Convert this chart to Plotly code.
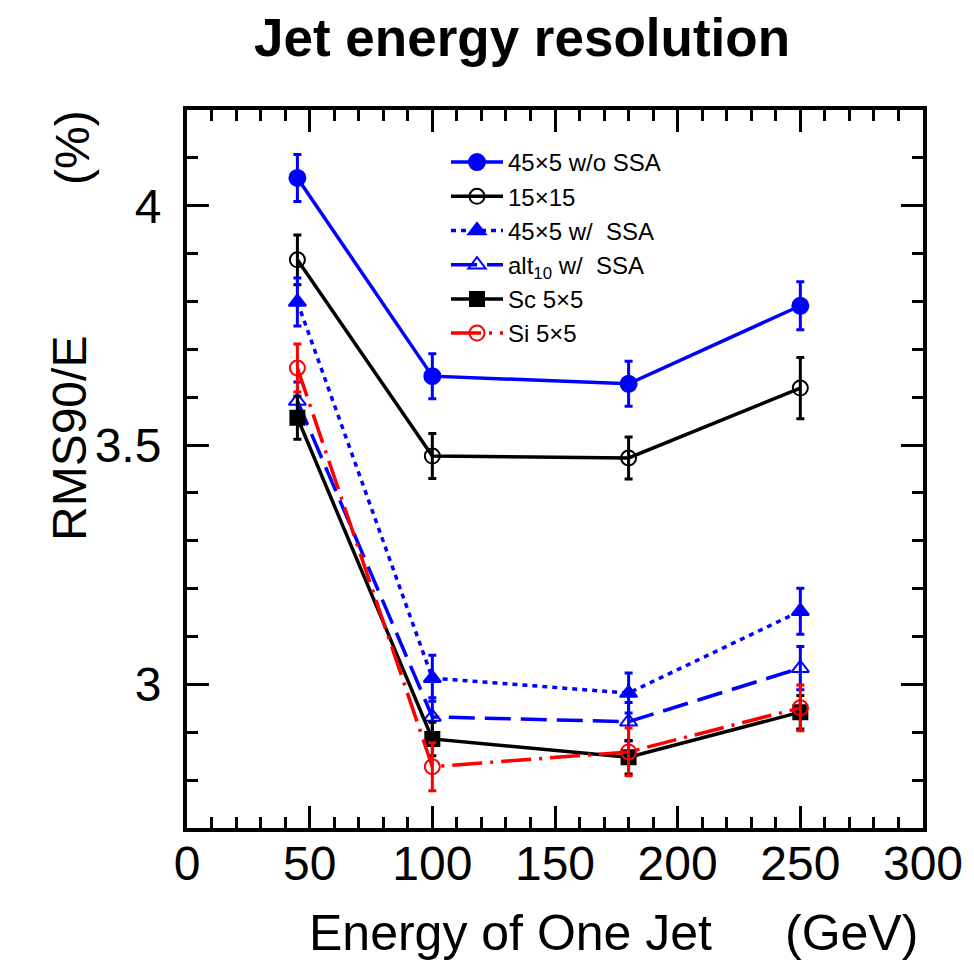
import plotly.graph_objects as go

energy = [45, 100, 180, 250]

names = ["45×5 w/o SSA", "15×15", "45×5 w/\u00a0 SSA", "alt<sub>10</sub> w/\u00a0 SSA", "Sc 5×5", "Si 5×5"]

v_45x5_noSSA = [4.058, 3.644, 3.628, 3.791]
e_45x5_noSSA = [0.049, 0.047, 0.047, 0.050]

v_15x15 = [3.887, 3.477, 3.473, 3.619]
e_15x15 = [0.052, 0.047, 0.044, 0.064]

v_45x5_SSA = [3.799, 3.013, 2.982, 3.153]
e_45x5_SSA = [0.050, 0.048, 0.042, 0.048]

v_alt10_SSA = [3.592, 2.932, 2.922, 3.034]
e_alt10_SSA = [0.040, 0.040, 0.040, 0.045]

v_sc5x5 = [3.557, 2.886, 2.848, 2.942]
e_sc5x5 = [0.045, 0.035, 0.035, 0.035]

v_si5x5 = [3.661, 2.828, 2.859, 2.951]
e_si5x5 = [0.050, 0.050, 0.050, 0.048]

FONT = "Liberation Sans, Arial, Helvetica, sans-serif"

series = [
    (names[0], v_45x5_noSSA, e_45x5_noSSA, "blue", "solid", "circle", 16),
    (names[1], v_15x15, e_15x15, "black", "solid", "circle-open", 15),
    (names[2], v_45x5_SSA, e_45x5_SSA, "blue", "5px,5px", "triangle-up", 15),
    (names[3], v_alt10_SSA, e_alt10_SSA, "blue", "26px,10px", "triangle-up-open", 15),
    (names[4], v_sc5x5, e_sc5x5, "black", "solid", "square", 14),
    (names[5], v_si5x5, e_si5x5, "red", "30px,8px,3px,8px", "circle-open", 15),
]

fig = go.Figure()
for name, vals, errs, col, dash, sym, size in series:
    fig.add_trace(go.Scatter(
        x=energy, y=vals, name=name, mode="lines+markers",
        line=dict(color=col, width=3.5, dash=dash),
        marker=dict(symbol=sym, size=size, color=col, line=dict(color=col, width=2)),
        error_y=dict(type="data", array=errs, visible=True, color=col, thickness=3, width=4),
    ))

axis_common = dict(
    showline=True, linecolor="black", linewidth=4, mirror="allticks",
    ticks="inside", ticklen=22, tickwidth=3, tickcolor="black",
    showgrid=False, zeroline=False,
    tickfont=dict(family=FONT, size=48, color="black"),
)

fig.update_xaxes(range=[0, 300], dtick=50, tick0=0,
                 minor=dict(dtick=10, ticks="inside", ticklen=11, tickwidth=3, tickcolor="black"),
                 ticklabelstandoff=-10, **axis_common)
fig.update_yaxes(range=[2.7, 4.2], tickvals=[3, 3.5, 4], ticktext=["3", "3.5", "4"],
                 minor=dict(dtick=0.1, tick0=2.7, ticks="inside", ticklen=11, tickwidth=3, tickcolor="black"),
                 ticklabelstandoff=12, **axis_common)

W, H = 974, 963
l, r, t, b = 187, 51, 110, 135
pw, ph = W - l - r, H - t - b


def px(xp):
    return (xp - l) / pw


def py(yp):
    return (H - b - yp) / ph


fig.update_layout(
    width=W, height=H,
    margin=dict(l=l, r=r, t=t, b=b),
    plot_bgcolor="white", paper_bgcolor="white",
    font=dict(family=FONT, color="black"),
    showlegend=True,
    legend=dict(x=px(446), y=py(140), xanchor="left", yanchor="top",
                font=dict(family=FONT, size=24, color="black"),
                itemwidth=52,
                bgcolor="rgba(0,0,0,0)", borderwidth=0, tracegroupgap=0),
)

fig.add_annotation(text="<b>Jet energy resolution</b>", x=px(522), y=py(38), xref="paper", yref="paper",
                   showarrow=False, xanchor="center", yanchor="middle",
                   font=dict(family=FONT, size=53, color="black"))
fig.add_annotation(text="Energy of One Jet", x=px(510), y=py(933), xref="paper", yref="paper",
                   showarrow=False, xanchor="center", yanchor="middle",
                   font=dict(family=FONT, size=50, color="black"))
fig.add_annotation(text="(GeV)", x=px(920), y=py(933), xref="paper", yref="paper",
                   showarrow=False, xanchor="right", yanchor="middle",
                   font=dict(family=FONT, size=50, color="black"))
fig.add_annotation(text="RMS90/E", x=px(69), y=py(439), xref="paper", yref="paper",
                   showarrow=False, xanchor="center", yanchor="middle", textangle=-90,
                   font=dict(family=FONT, size=48, color="black"))
fig.add_annotation(text="(%)", x=px(72), y=py(148), xref="paper", yref="paper",
                   showarrow=False, xanchor="center", yanchor="middle", textangle=-90,
                   font=dict(family=FONT, size=48, color="black"))

fig.write_html("out.html")
